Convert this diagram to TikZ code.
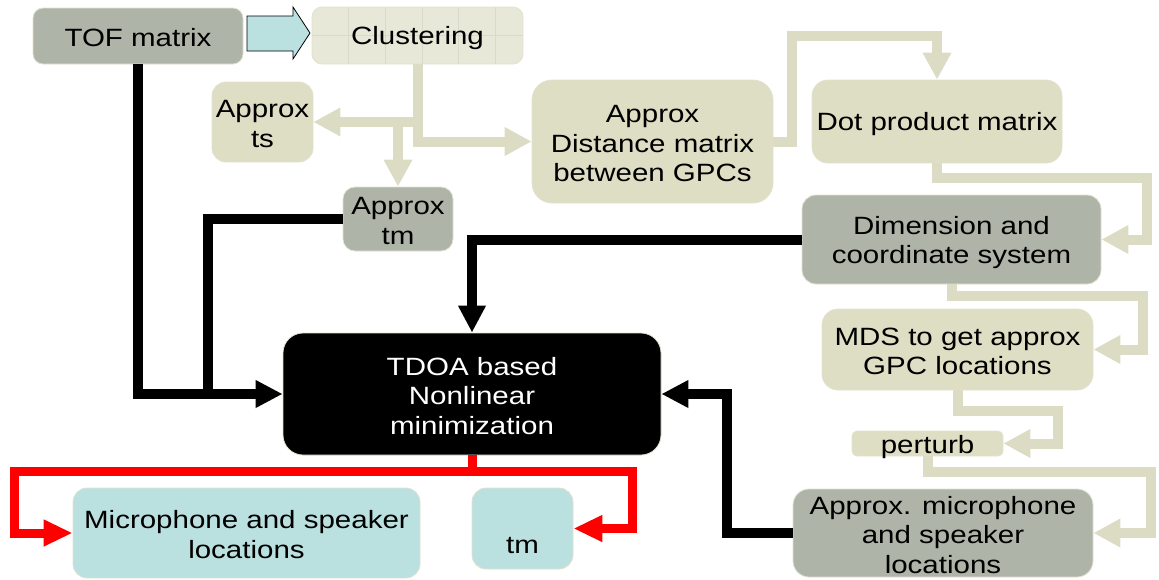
\documentclass[tikz,border=0pt]{standalone}
\usepackage{fontspec}
\setmainfont[FakeStretch=1.18]{Liberation Sans}
\usetikzlibrary{arrows.meta}
\definecolor{gbox}{HTML}{AEB4A7}
\definecolor{tbox}{HTML}{DEDEC4}
\definecolor{cbox}{HTML}{E7E8D8}
\definecolor{cgrid}{HTML}{D9DAC8}
\definecolor{tanline}{HTML}{DCDCC4}
\definecolor{cyanbox}{HTML}{BAE0E0}
\definecolor{bordr}{HTML}{E2E2D0}
\newcommand{\ls}{\rule[-3pt]{0pt}{27pt}}
\begin{document}
\begin{tikzpicture}[x=1pt,y=-1pt,
  box/.style={rectangle, rounded corners=#1, draw=bordr, line width=0.8pt, inner sep=0pt,
    align=center, font=\fontsize{25}{29.5}\selectfont, text=black},
  box/.default=12pt,
  graybox/.style={box=#1, fill=gbox},
  graybox/.default=12pt,
  tanbox/.style={box=#1, fill=tbox},
  tanbox/.default=14pt,
  cyannode/.style={box=#1, fill=cyanbox},
  cyannode/.default=14pt,
  tanarrow/.style={draw=tanline, line width=10pt, -{Triangle[length=27pt,width=27pt]}},
  blackarrow/.style={draw=black, line width=10pt, -{Triangle[length=27pt,width=26pt]}},
  blackline/.style={draw=black, line width=10pt},
  redarrow/.style={draw=red, line width=9pt, -{Triangle[length=29pt,width=25pt]}}
]
\useasboundingbox (0,0) rectangle (1159,579);

% nodes
\node[graybox=10pt, minimum width=210pt, minimum height=56pt] (tof) at (138,36) {\ls TOF matrix};
\node[box=10pt, fill=cbox, minimum width=211pt, minimum height=57pt,
  path picture={
    \foreach \k in {1,...,5}
      \draw[cgrid, line width=0.8pt] ([xshift=\k*36.7pt]path picture bounding box.north west)
        -- ([xshift=\k*36.7pt]path picture bounding box.south west);
    \draw[cgrid, line width=0.8pt] (path picture bounding box.west) -- (path picture bounding box.east);
  }] (clus) at (417.5,35.5) {\ls Clustering};
\node[tanbox, minimum width=101pt, minimum height=80pt] (ats) at (262.5,122) {\ls Approx\\\ls ts};
\node[graybox, minimum width=110pt, minimum height=64pt] (atm) at (398,219) {\ls Approx\\\ls tm};
\node[tanbox=20pt, minimum width=241pt, minimum height=123pt] (adist) at (652.5,141.5) {\ls Approx\\\ls Distance matrix\\\ls between GPCs};
\node[tanbox=16pt, minimum width=250pt, minimum height=83pt] (dot) at (937,121.5) {\ls Dot product matrix};
\node[graybox=14pt, minimum width=299pt, minimum height=89pt] (dim) at (951.5,239.5) {\ls Dimension and\\\ls coordinate system};
\node[tanbox=16pt, minimum width=271pt, minimum height=81pt] (mds) at (957.5,349.5) {\ls MDS to get approx\\\ls GPC locations};
\node[tanbox=5pt, minimum width=151pt, minimum height=25pt] (pert) at (927.5,443.5) {\raisebox{-9.5pt}[0pt][0pt]{perturb}};
\node[graybox=16pt, minimum width=300pt, minimum height=88pt] (amic) at (943,533) {\ls Approx. microphone\\\ls and speaker\\\ls locations};
\node[box=20pt, fill=black, text=white, minimum width=378pt, minimum height=122pt] (tdoa) at (472,394) {\ls TDOA based\\\ls Nonlinear\\\ls minimization};
\node[cyannode, minimum width=347pt, minimum height=90pt] (msl) at (246.5,533) {\ls Microphone and speaker\\\ls locations};
\node[cyannode, minimum width=101pt, minimum height=81pt] (tm) at (522.5,528.5) {\ls~\\\ls tm};

% block arrow TOF -> Clustering
\draw[fill=cyanbox, draw=black, line width=0.8pt]
  (247,16) -- (293,16) -- (293,7) -- (310,33) -- (293,59) -- (293,51) -- (247,51) -- cycle;

% tan connectors
\draw[tanarrow] (clus.south) |- (adist.west);
\draw[tanarrow] (clus.south) |- (ats.east);
\draw[tanarrow] (atm.north |- ats.east) -- (atm.north);
\draw[tanarrow] (adist.east) -| (792,36) -| (dot.north);
\draw[tanarrow] (dot.south) |- (1147,178) |- (dim.east);
\draw[tanarrow] (dim.south) |- (1143,296) |- (mds.east);
\draw[tanarrow] (mds.south) |- (1058,411) |- (pert.east);
\draw[tanarrow] (pert.south) |- (1151,472) |- (amic.east);

% black connectors
\coordinate (j2) at (208,394);
\draw[blackarrow] (tof.south) |- (tdoa.west);
\draw[blackline] (atm.west) -| (j2);
\draw[blackarrow] (dim.west) -| (tdoa.north);
\draw[blackarrow] (amic.west) -| (727,394) -- (tdoa.east);

% red connectors
\draw[redarrow] (tdoa.south) |- (14,471) |- (msl.west);
\draw[redarrow] (tdoa.south) |- (632,471) |- (tm.east);
\end{tikzpicture}
\end{document}
